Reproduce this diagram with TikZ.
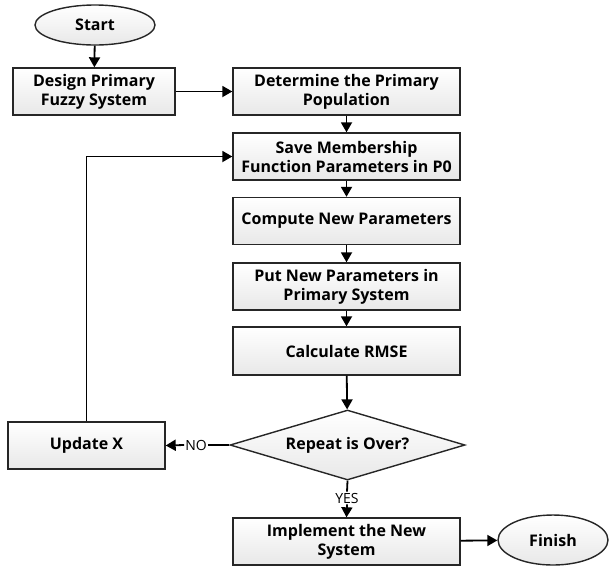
\documentclass[tikz,border=0pt]{standalone}
\usepackage{fontspec}
\setmainfont{Open Sans}
\usetikzlibrary{shapes.geometric,arrows.meta}
\begin{document}
\begin{tikzpicture}[x=1pt,y=-1pt,
  every node/.style={font=\fontsize{16}{19}\selectfont\bfseries, align=center, inner sep=0pt},
  procbox/.style={draw=black!85, line width=1.4pt, top color=white, bottom color=black!9, minimum width=227pt, minimum height=47pt},
  term/.style={ellipse, draw=black!85, line width=1.4pt, top color=white, bottom color=black!9},
  decis/.style={diamond, aspect=3.36, draw=black!85, line width=1.4pt, top color=white, bottom color=black!9, minimum width=235pt, minimum height=70pt},
  conn/.style={line width=1.8pt, -{Triangle[length=10pt,width=11pt]}},
  plain/.style={line width=1.8pt},
  lbl/.style={font=\fontsize{14}{16}\selectfont, fill=white, inner sep=1pt}]
\useasboundingbox (0,0) rectangle (609,566);
\node[term, minimum width=120pt, minimum height=40pt] (start) at (95,25) {Start};
\node[procbox, minimum width=162pt] (design) at (94,91.5) {Design Primary\\Fuzzy System};
\node[procbox] (det) at (346.5,91.5) {Determine the Primary\\Population};
\node[procbox] (save) at (346.5,156.5) {Save Membership\\Function Parameters in P0};
\node[procbox] (comp) at (346.5,221) {Compute New Parameters};
\node[procbox] (put) at (346.5,286.5) {Put New Parameters in\\Primary System};
\node[procbox, minimum height=48pt] (calc) at (346.5,351) {Calculate RMSE};
\node[decis] (rep) at (347.5,445) {Repeat is Over?};
\node[procbox, minimum width=157pt] (upd) at (86.5,445.5) {Update X};
\node[procbox] (impl) at (346.5,541.5) {Implement the New\\System};
\node[term, minimum width=110pt, minimum height=50pt] (fin) at (553,540) {Finish};
\node[lbl] (no) at (196,445) {NO};
\node[lbl] (yes) at (347,498) {YES};
\draw[conn] (start) -- (design);
\draw[conn] (design) -- (det);
\draw[conn] (det) -- (save);
\draw[conn] (save) -- (comp);
\draw[conn] (comp) -- (put);
\draw[conn] (put) -- (calc);
\draw[conn] (calc) -- (rep);
\draw[plain] (rep.west) -- (no.east);
\draw[conn] (no.west) -- (upd.east);
\draw[plain] (rep.south) -- (yes.north);
\draw[conn] (yes.south) -- (impl.north);
\draw[conn] (upd.north) |- (save.west);
\draw[conn] (impl) -- (fin);
\end{tikzpicture}
\end{document}
